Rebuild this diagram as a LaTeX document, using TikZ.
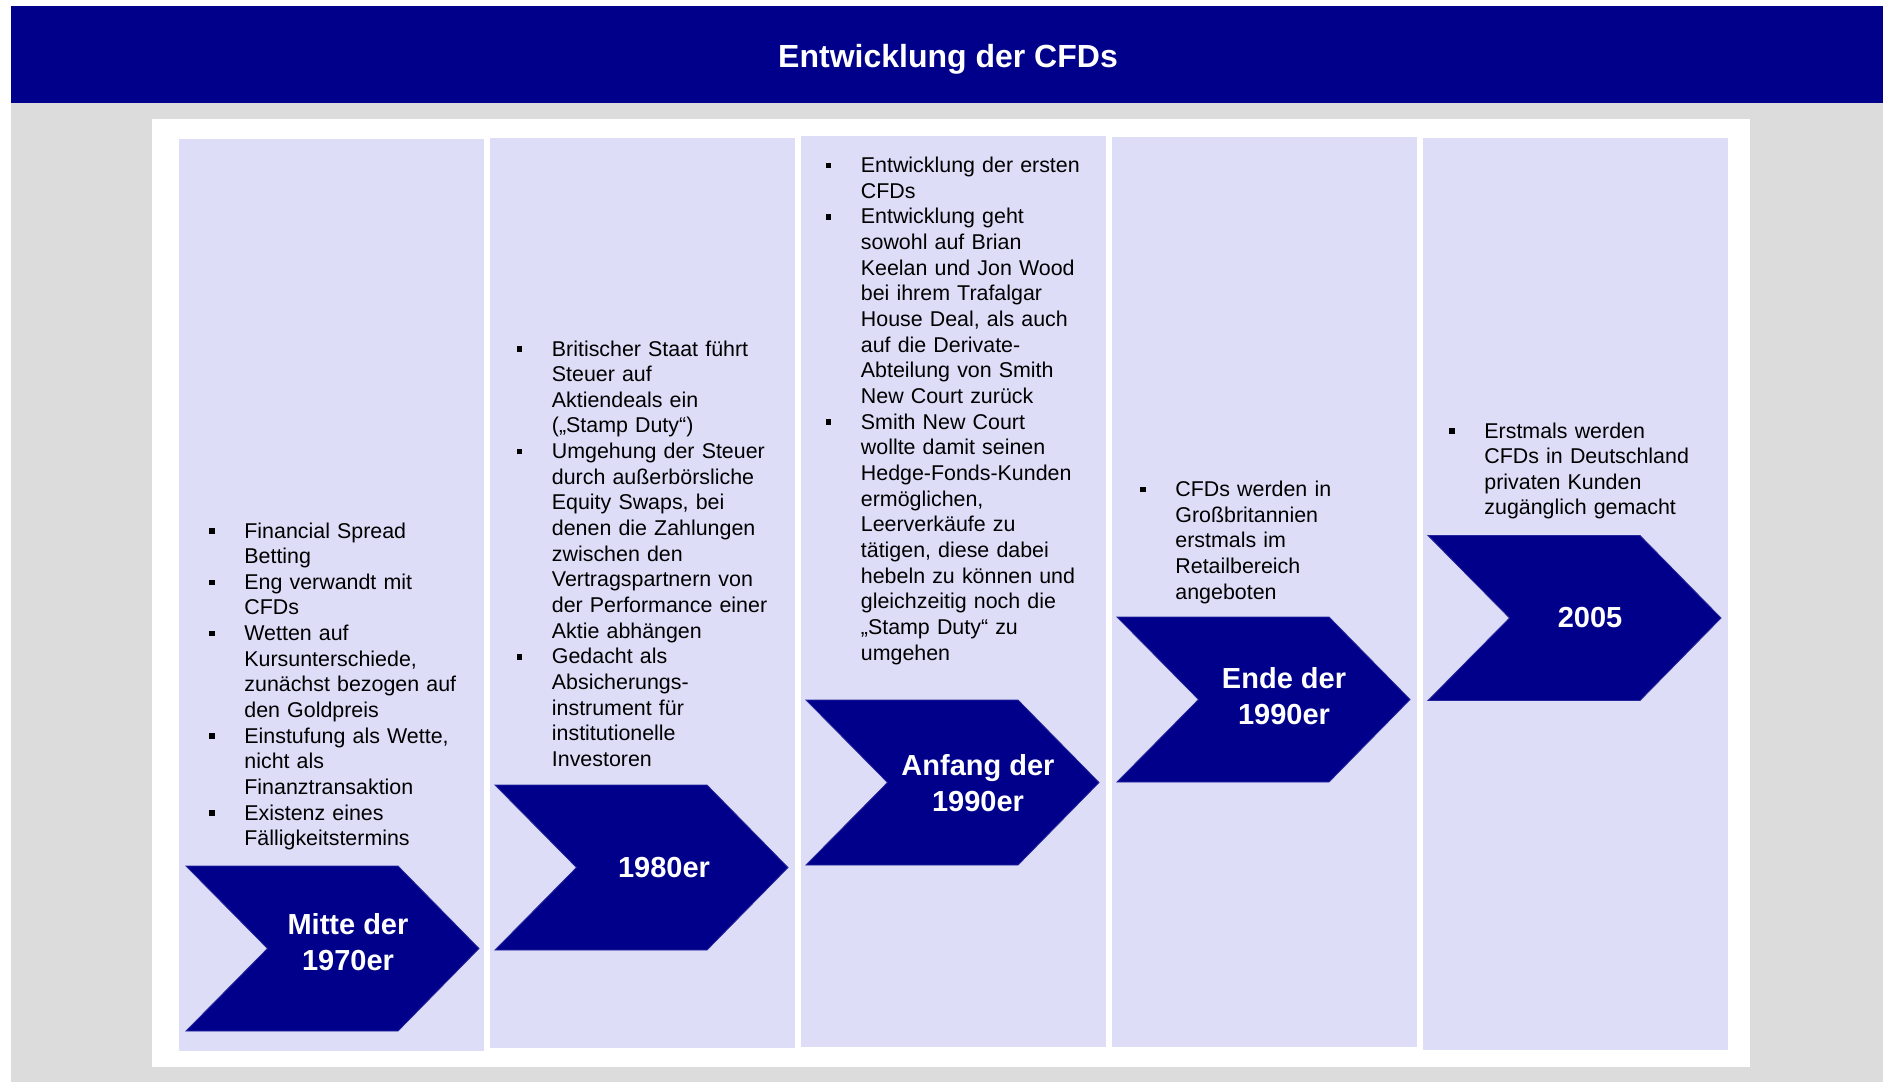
\documentclass[tikz,border=0pt]{standalone}
\usepackage{fontspec}
\setmainfont{Liberation Sans}
\usepackage{tikz}
\usetikzlibrary{positioning}
\usepackage{xcolor}
\definecolor{dunkelblau}{RGB}{0,0,139}
\definecolor{lavendel}{RGB}{221,221,248}
\definecolor{hellgrau}{RGB}{220,220,220}
\newcommand{\pkt}{\leavevmode\llap{\raisebox{2.1pt}{\rule{2.8pt}{2.8pt}}\hspace{14.9pt}}}

\begin{document}
\begin{tikzpicture}[x=0.5pt, y=-0.5pt]
      \tikzset{
	  spalte/.style={fill=lavendel},
	  zeitpunkt/.style={fill=dunkelblau, draw=dunkelblau!85!white, line width=0.4pt},
	  jahr/.style={text=white, font=\fontsize{14.5}{18}\selectfont\bfseries, align=center, inner sep=0pt},
	  punkte/.style={anchor=base west, text width=122pt, align=left, inner sep=0pt, font=\fontsize{10.7}{12.83}\selectfont}
      }
      \useasboundingbox (0,0) rectangle (1883,1082);
      \fill[white] (0,0) rectangle (1883,1082);
      \fill[hellgrau] (11,103) rectangle (1883,1082);
      \fill[dunkelblau] (11,6) rectangle (1883,103);
      \fill[white] (152,119) rectangle (1750,1067);
      \node at (948,59) [text=white, font=\fontsize{16}{19}\selectfont\bfseries] (titel) {Entwicklung der CFDs};

      % Spalten
      \fill[spalte] (179,139) rectangle (484,1051);
      \fill[spalte] (490,138) rectangle (795,1048);
      \fill[spalte] (801,136) rectangle (1106,1047);
      \fill[spalte] (1112,137) rectangle (1417,1047);
      \fill[spalte] (1423,138) rectangle (1728,1050);

      % Pfeile
      \def\pfeilpfad{-- +(212,0) -- +(293,82.5) -- +(212,165) -- +(0,165) -- +(81.5,82.5) -- cycle}
      \draw (186,866) [zeitpunkt] \pfeilpfad;
      \draw (495,785) [zeitpunkt] \pfeilpfad;
      \draw (806,700) [zeitpunkt] \pfeilpfad;
      \draw (1117,617) [zeitpunkt] \pfeilpfad;
      \draw (1428,535.5) [zeitpunkt] \pfeilpfad;

      \node at (348,942.5) [jahr] (j1970) {Mitte der\\1970er};
      \node at (664,867.5) [jahr] (j1980) {1980er};
      \node at (978,783) [jahr] (j1990a) {Anfang der\\1990er};
      \node at (1284,696) [jahr] (j1990e) {Ende der\\1990er};
      \node at (1590,618) [jahr] (j2005) {2005};

      % Texte
      \node at (244,538) [punkte] (t1970) {\pkt Financial Spread\\Betting\\
	\pkt Eng verwandt mit\\CFDs\\
	\pkt Wetten auf\\Kursunterschiede,\\zunächst bezogen auf\\den Goldpreis\\
	\pkt Einstufung als Wette,\\nicht als\\Finanztransaktion\\
	\pkt Existenz eines\\Fälligkeitstermins};
      \node at (551.5,356) [punkte] (t1980) {\pkt Britischer Staat führt\\Steuer auf\\Aktiendeals ein\\(„Stamp Duty“)\\
	\pkt Umgehung der Steuer\\durch außerbörsliche\\Equity Swaps, bei\\denen die Zahlungen\\zwischen den\\Vertragspartnern von\\der Performance einer\\Aktie abhängen\\
	\pkt Gedacht als\\Absicherungs-\\instrument für\\institutionelle\\Investoren};
      \node at (860.5,172.5) [punkte] (t1990a) {\pkt Entwicklung der ersten\\CFDs\\
	\pkt Entwicklung geht\\sowohl auf Brian\\Keelan und Jon Wood\\bei ihrem Trafalgar\\House Deal, als auch\\auf die Derivate-\\Abteilung von Smith\\New Court zurück\\
	\pkt Smith New Court\\wollte damit seinen\\Hedge-Fonds-Kunden\\ermöglichen,\\Leerverkäufe zu\\tätigen, diese dabei\\hebeln zu können und\\gleichzeitig noch die\\„Stamp Duty“ zu\\umgehen};
      \node at (1175,496.5) [punkte] (t1990e) {\pkt CFDs werden in\\Großbritannien\\erstmals im\\Retailbereich\\angeboten};
      \node at (1484,438) [punkte] (t2005) {\pkt Erstmals werden\\CFDs in Deutschland\\privaten Kunden\\zugänglich gemacht};
    \end{tikzpicture}
\end{document}
